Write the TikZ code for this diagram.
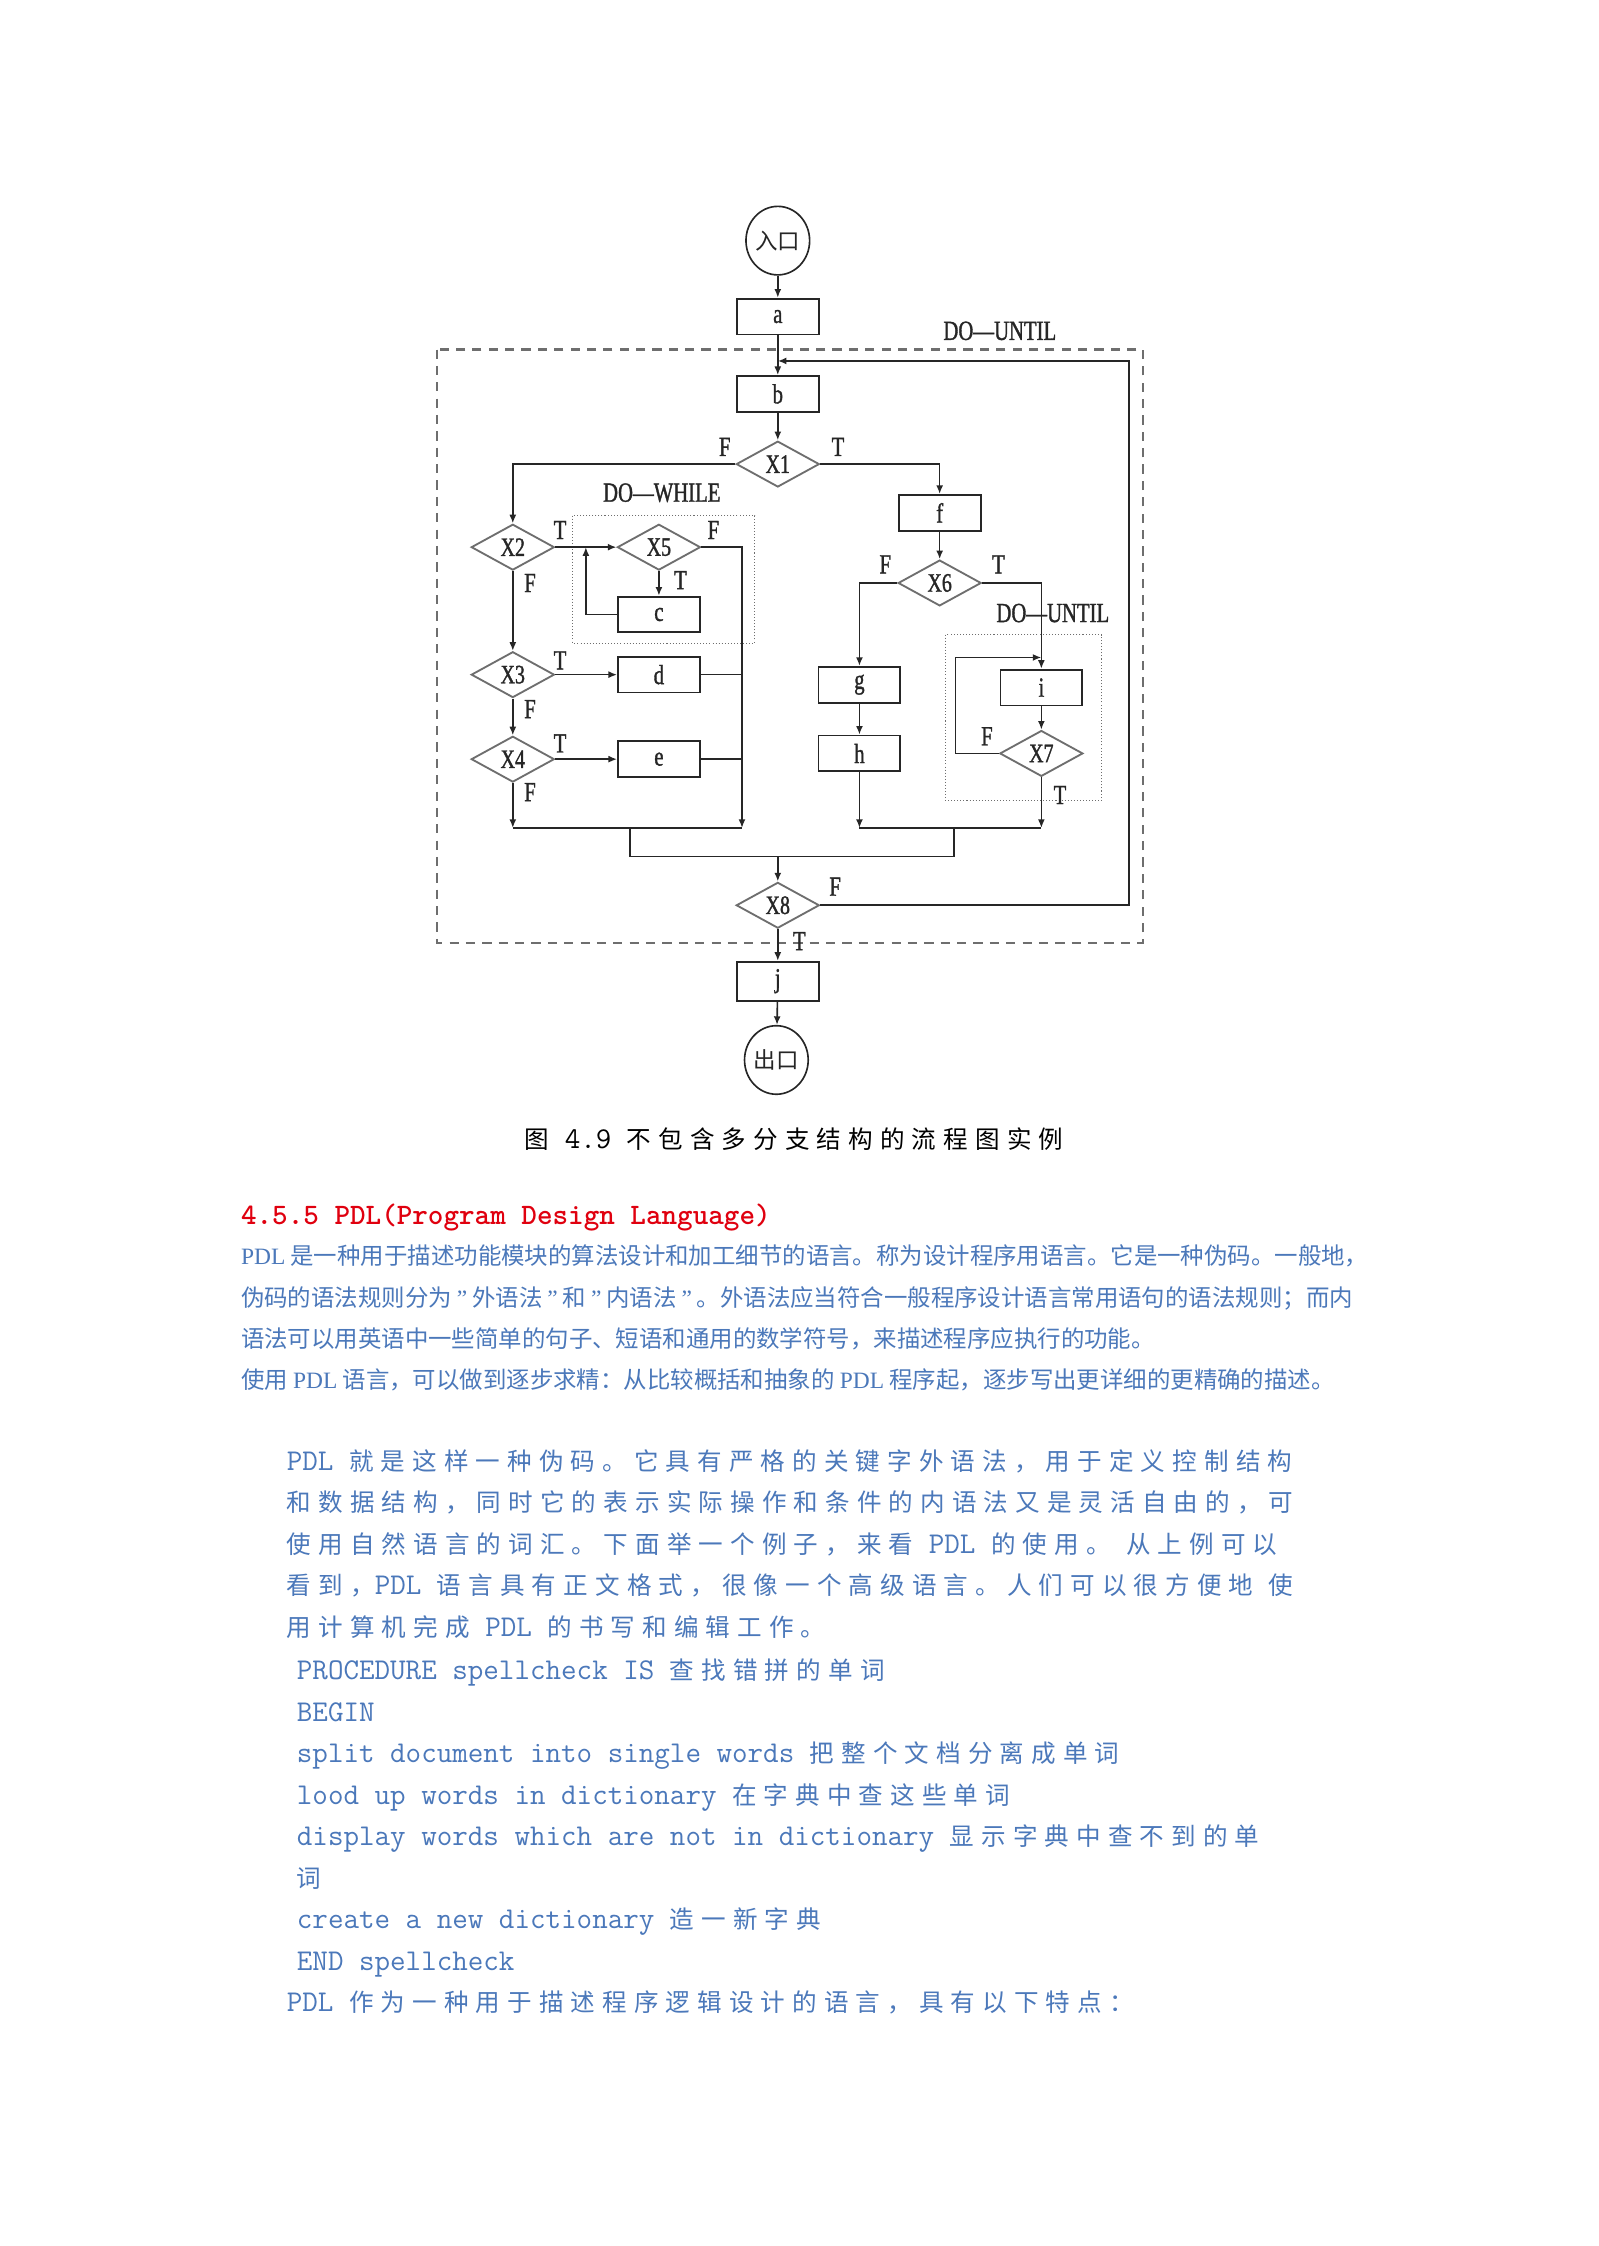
\documentclass[tikz,border=0pt]{standalone}
\usepackage{fontspec}
\setmainfont{Liberation Serif}
\newfontfamily\cjk{Noto Sans CJK SC}
\newfontfamily\cjkgrid{Noto Sans CJK SC}[LetterSpace=29]
\newfontfamily\flowfont{Liberation Serif}[FakeStretch=0.75, FakeBold=1.2]
\usetikzlibrary{arrows.meta,calc,shapes.geometric}
\definecolor{FlowInk}{HTML}{262626}
\definecolor{FlowGrey}{HTML}{6E6E6E}
\definecolor{TextBlue}{HTML}{4B78BA}
\definecolor{HeadRed}{HTML}{E0000F}
\newcommand\zh[1]{{\cjkgrid\fontsize{12}{14}\selectfont #1}}
\newcommand\q{\kern2.4pt{\rmfamily ”}\kern2.4pt}
\tikzset{
  every node/.style={inner sep=0pt, text=FlowInk},
  box/.style={draw=FlowInk, line width=0.9pt, minimum width=40pt, minimum height=17.5pt, font=\flowfont\fontsize{13.5}{14}\selectfont},
  decision/.style={diamond, aspect=1.8, draw=FlowGrey, line width=0.9pt, minimum width=40.6pt, minimum height=22.4pt, font=\flowfont\fontsize{13}{14}\selectfont},
  terminal/.style={ellipse, draw=FlowInk, line width=0.8pt, minimum width=31pt, minimum height=33.5pt, font=\cjk\fontsize{11}{12}\selectfont},
  tag/.style={font=\flowfont\fontsize{13.5}{14}\selectfont},
  flow/.style={-{Latex[length=4.2pt,width=3.4pt]}, draw=FlowInk, line width=0.8pt},
  link/.style={draw=FlowInk, line width=0.8pt},
  outerloop/.style={draw=FlowGrey, line width=1pt, dash pattern=on 4.5pt off 3.5pt},
  loopbox/.style={draw=FlowGrey, line width=0.5pt, densely dotted},
  headline/.style={anchor=base west, text=HeadRed, font=\ttfamily\bfseries\fontsize{14.5}{16}\selectfont},
  bodytext/.style={anchor=base west, text=TextBlue, font=\cjk\fontsize{11.45}{13}\selectfont},
  codeline/.style={anchor=base west, text=TextBlue, font=\ttfamily\fontsize{14.75}{17}\selectfont},
}
\begin{document}
\begin{tikzpicture}[x=0.7pt, y=-0.7pt]
  \fill[white] (0,0) rectangle (1116,1568);
  \useasboundingbox (0,0) rectangle (1116,1568);
  % Main spine
  \node[terminal] (entry) at (543,168) {入口};
  \node[box] (a) at (543,221) {a};
  \node[box] (b) at (543,275) {b};
  \node[decision] (X1) at (543,324) {X1};
  % Left branch
  \node[decision] (X2) at (358,382) {X2};
  \node[decision] (X5) at (460,382) {X5};
  \node[box] (c) at (460,429) {c};
  \node[decision] (X3) at (358,471) {X3};
  \node[box] (d) at (460,471) {d};
  \node[decision] (X4) at (358,530) {X4};
  \node[box] (e) at (460,530) {e};
  % Right branch
  \node[box] (f) at (656,358) {f};
  \node[decision] (X6) at (656,407) {X6};
  \node[box] (g) at (600,478) {g};
  \node[box] (h) at (600,526) {h};
  \node[box] (i) at (727,480) {i};
  \node[decision] (X7) at (727,526) {X7};
  % Exit
  \node[decision] (X8) at (543,632) {X8};
  \node[box, minimum height=19pt] (j) at (543,685) {j};
  \node[terminal] (exit) at (542,740) {出口};
  % Loop frames
  \draw[outerloop] (305,244) rectangle (798,658);
  \draw[loopbox] (400,360) rectangle (527,449);
  \draw[loopbox] (660,443) rectangle (769,559);
  \node[tag] (untilA) at (698,231) {DO—UNTIL};
  \node[tag] (whileA) at (462,344) {DO—WHILE};
  \node[tag] (untilB) at (735,428) {DO—UNTIL};
  % Helper points
  \coordinate (top) at (543,252);
  \coordinate (rim) at (788,632);
  \coordinate (rail) at (518,382);
  \coordinate (back7) at (667,459);
  \coordinate (joinL) at (440,578);
  \coordinate (joinR) at (666,578);
  \coordinate (joinM) at (543,598);
  % Connectors
  \draw[flow] (entry) -- (a);
  \draw[flow] (a) -- (b);
  \draw[flow] (b) -- (X1);
  \draw[flow] (X8.east) -- (rim) |- (top);
  \draw[flow] (X1.west) -| (X2.north);
  \draw[flow] (X1.east) -| (f.north);
  \draw[flow] (X2) -- (X5);
  \draw[flow] (X5) -- (c);
  \draw[flow] (c.west) -| ($(X2.east)!0.5!(X5.west)$);
  \draw[flow] (X5.east) -- (rail) -- (rail |- joinL);
  \draw[flow] (X2) -- (X3);
  \draw[flow] (X3) -- (d);
  \draw[link] (d.east) -- (d.east -| rail);
  \draw[flow] (X3) -- (X4);
  \draw[flow] (X4) -- (e);
  \draw[link] (e.east) -- (e.east -| rail);
  \draw[flow] (X4.south) -- (X4.south |- joinL);
  \draw[link] (X4.south |- joinL) -- (rail |- joinL);
  \draw[flow] (f) -- (X6);
  \draw[flow] (X6.west) -| (g.north);
  \draw[flow] (X6.east) -| (i.north);
  \draw[flow] (g) -- (h);
  \draw[flow] (h.south) -- (h.south |- joinR);
  \draw[flow] (i) -- (X7);
  \draw[flow] (X7.west) -| (back7) -- (back7 -| i.north);
  \draw[flow] (X7.south) -- (X7.south |- joinR);
  \draw[link] (h.south |- joinR) -- (X7.south |- joinR);
  \draw[link] (joinR) -- (joinR |- joinM) -- (joinL |- joinM) -- (joinL);
  \draw[flow] (joinM) -- (X8.north);
  \draw[flow] (X8) -- (j);
  \draw[flow] (j) -- (exit);
  % Branch tags
  \node[tag] (fX1) at (506,312) {F};
  \node[tag] (tX1) at (585,312) {T};
  \node[tag] (tX2) at (391,370) {T};
  \node[tag] (fX2) at (370,407) {F};
  \node[tag] (fX5) at (498,370) {F};
  \node[tag] (tX5) at (475,405) {T};
  \node[tag] (tX3) at (391,461) {T};
  \node[tag] (fX3) at (370,495) {F};
  \node[tag] (tX4) at (391,519) {T};
  \node[tag] (fX4) at (370,553) {F};
  \node[tag] (fX6) at (618,394) {F};
  \node[tag] (tX6) at (697,394) {T};
  \node[tag] (fX7) at (689,514) {F};
  \node[tag] (tX7) at (740,555) {T};
  \node[tag] (fX8) at (583,619) {F};
  \node[tag] (tX8) at (558,657) {T};
  % Caption
  \node[codeline, text=black] (cap) at (366,801.5) {\zh{图} 4.9 \zh{不包含多分支结构的流程图实例}};
  % Section text
  \node[headline] (head) at (168,855) {4.5.5 PDL(Program Design Language)};
  \node[bodytext] (pa1) at (168,883) {{\rmfamily PDL} 是一种用于描述功能模块的算法设计和加工细节的语言。称为设计程序用语言。它是一种伪码。一般地，};
  \node[bodytext] (pa2) at (168,912) {伪码的语法规则分为\q 外语法\q 和\q 内语法\q 。外语法应当符合一般程序设计语言常用语句的语法规则；而内};
  \node[bodytext] (pa3) at (168,941) {语法可以用英语中一些简单的句子、短语和通用的数学符号，来描述程序应执行的功能。};
  \node[bodytext] (pa4) at (168,969) {使用 {\rmfamily PDL} 语言，可以做到逐步求精：从比较概括和抽象的 {\rmfamily PDL} 程序起，逐步写出更详细的更精确的描述。};
  \node[codeline] (pb1) at (200,1026.5) {PDL \zh{就是这样一种伪码。它具有严格的关键字外语法，用于定义控制结构}};
  \node[codeline] (pb2) at (200,1055.5) {\zh{和数据结构，同时它的表示实际操作和条件的内语法又是灵活自由的，可}};
  \node[codeline] (pb3) at (200,1084.5) {\zh{使用自然语言的词汇。下面举一个例子，来看} PDL \zh{的使用。} \zh{从上例可以}};
  \node[codeline] (pb4) at (200,1113.5) {\zh{看到，}PDL \zh{语言具有正文格式，很像一个高级语言。人们可以很方便地} \zh{使}};
  \node[codeline] (pb5) at (200,1142.5) {\zh{用计算机完成} PDL \zh{的书写和编辑工作。}};
  % Example procedure
  \node[codeline] (c1) at (207,1172.5) {PROCEDURE spellcheck IS \zh{查找错拼的单词}};
  \node[codeline] (c2) at (207,1201.5) {BEGIN};
  \node[codeline] (c3) at (207,1230.5) {split document into single words \zh{把整个文档分离成单词}};
  \node[codeline] (c4) at (207,1259.5) {lood up words in dictionary \zh{在字典中查这些单词}};
  \node[codeline] (c5) at (207,1288.5) {display words which are not in dictionary \zh{显示字典中查不到的单}};
  \node[codeline] (c6) at (207,1317.5) {\zh{词}};
  \node[codeline] (c7) at (207,1346.5) {create a new dictionary \zh{造一新字典}};
  \node[codeline] (c8) at (207,1375.5) {END spellcheck};
  \node[codeline] (pc) at (200,1404.5) {PDL \zh{作为一种用于描述程序逻辑设计的语言，具有以下特点：}};
\end{tikzpicture}
\end{document}
